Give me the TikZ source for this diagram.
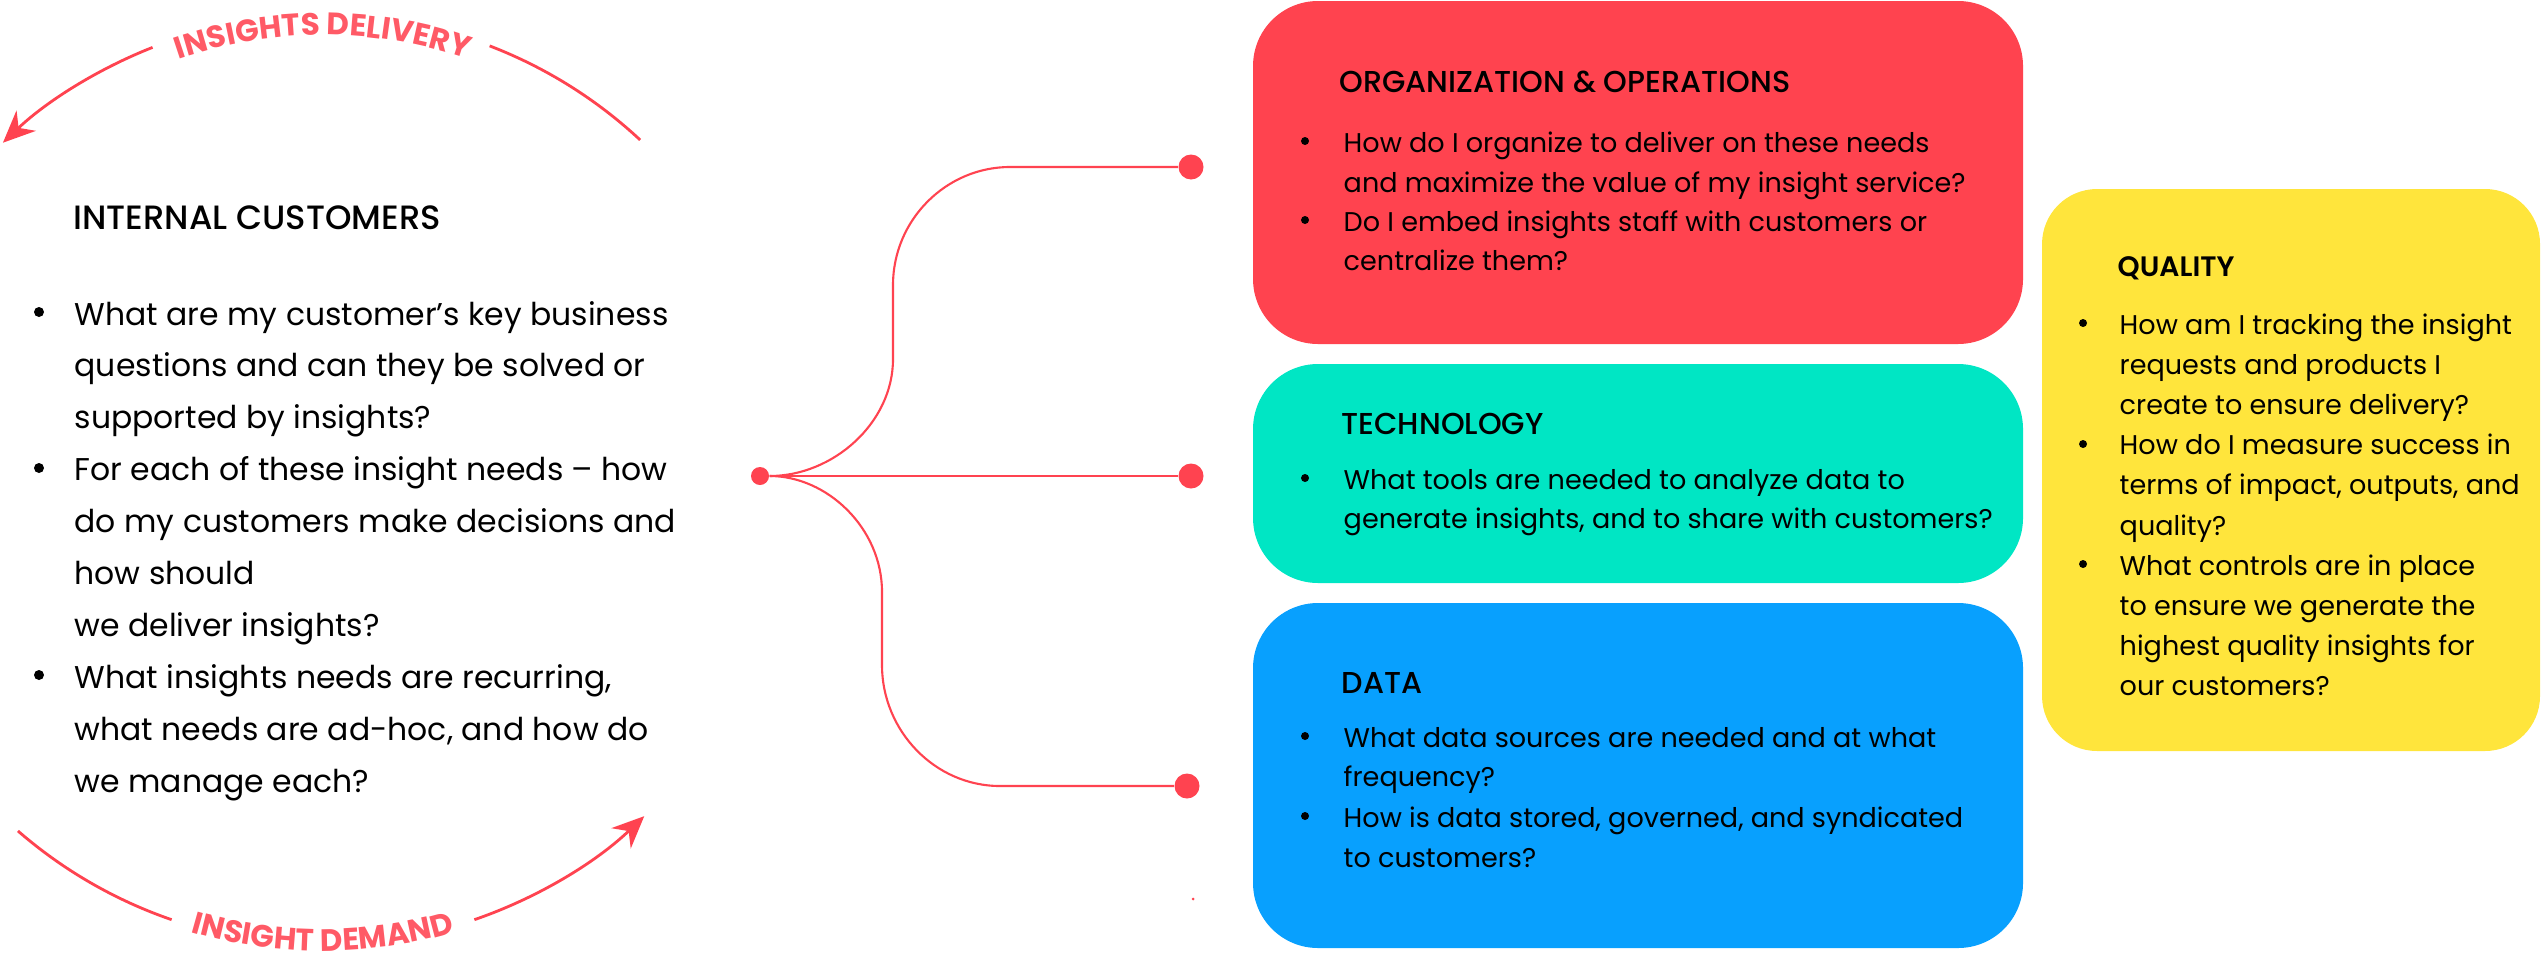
\documentclass[tikz,border=0pt]{standalone}
\usepackage{fontspec}
\setmainfont{Poppins}
\newfontfamily\medfont{Poppins Medium}
\newfontfamily\semifont{Poppins SemiBold}
\newfontfamily\boldfont{Poppins Bold}
\usetikzlibrary{arrows.meta,decorations.text}
\definecolor{redbox}{HTML}{FF434F}
\definecolor{tealbox}{HTML}{00E6C4}
\definecolor{bluebox}{HTML}{08A0FE}
\definecolor{yellowbox}{HTML}{FFE53C}
\definecolor{linered}{HTML}{FF4350}
\definecolor{arctext}{HTML}{FF5A66}
\begin{document}
\begin{tikzpicture}[x=0.1mm,y=0.1mm,
  body/.style={anchor=base west,inner sep=0pt,font=\fontsize{7.7}{8}\selectfont},
  lbody/.style={anchor=base west,inner sep=0pt,font=\fontsize{8.95}{10}\selectfont},
  ttl/.style={anchor=base west,inner sep=0pt,font=\medfont\fontsize{8.6}{9}\selectfont},
  panel/.style={rectangle,rounded corners=6.5mm,draw=none,inner sep=0pt},
  dot/.style={circle,fill=linered,inner sep=0pt,minimum size=2.5mm},
  conn/.style={draw=linered,line width=0.6pt},
  cyc/.style={draw=linered,line width=0.8pt},
  arctxt/.style={decorate,decoration={text along path,text align=center,text color=arctext,text={|\boldfont\fontsize{8.8}{10}\selectfont|#1}}}
]
\useasboundingbox (0,0) rectangle (2542,962);

% panels
\node[panel,fill=redbox,minimum width=77mm,minimum height=34.3mm] (org) at (1638,789.5) {};
\node[panel,fill=tealbox,minimum width=77mm,minimum height=21.9mm] (tech) at (1638,488.5) {};
\node[panel,fill=bluebox,minimum width=77mm,minimum height=34.5mm] (data) at (1638,186.5) {};
\node[panel,rounded corners=5.5mm,fill=yellowbox,minimum width=49.8mm,minimum height=56.2mm] (qual) at (2291,492) {};

% connector dots
\node[dot,minimum size=1.8mm] (L) at (760,486) {};
\node[dot] (T) at (1191,795) {};
\node[dot] (M) at (1191,486) {};
\node[dot] (B) at (1187,176) {};
\node[circle,fill=linered,inner sep=0pt,minimum size=0.3mm] (s) at (1193,63) {};

\draw[conn] (L) .. controls (833,486) and (893,539) .. (893,603) -- (893,677)
   .. controls (893,742) and (946,795) .. (1010,795) -- (T);
\draw[conn] (L) -- (M);
\draw[conn] (L) .. controls (827,486) and (882,434) .. (882,370) -- (882,297)
   .. controls (882,231) and (935,176) .. (1000,176) -- (B);

% cycle arcs
\coordinate (c) at (323,482);
\draw[cyc] ([shift={(47:46.5mm)}]c) arc[start angle=47,end angle=69,radius=46.5mm];
\draw[cyc,-{Stealth[length=3.2mm,width=2.8mm]}] ([shift={(111.5:46.5mm)}]c) arc[start angle=111.5,end angle=133.5,radius=46.5mm];
\draw[cyc] ([shift={(229:46.5mm)}]c) arc[start angle=229,end angle=251,radius=46.5mm];
\draw[cyc,-{Stealth[length=3.2mm,width=2.8mm]}] ([shift={(289:46.5mm)}]c) arc[start angle=289,end angle=313.7,radius=46.5mm];
\path[arctxt={INSIGHTS DELIVERY}] ([shift={(110:44.5mm)}]c) arc[start angle=110,end angle=70,radius=44.5mm];
\path[arctxt={INSIGHT DEMAND}] ([shift={(252:47.1mm)}]c) arc[start angle=252,end angle=288,radius=47.1mm];

% left column
\node[ttl,font=\medfont\fontsize{9.6}{10}\selectfont] (lt) at (73,733) {INTERNAL CUSTOMERS};
\fill (39,650) circle (5);
\fill (39,494) circle (5);
\fill (39,287) circle (5);
\node[lbody] (l1) at (74,637) {What are my customer’s key business};
\node[lbody] (l2) at (74,585.1) {questions and can they be solved or};
\node[lbody] (l3) at (74,533.2) {supported by insights?};
\node[lbody] (l4) at (74,481.3) {For each of these insight needs – how};
\node[lbody] (l5) at (74,429.4) {do my customers make decisions and};
\node[lbody] (l6) at (74,377.5) {how should};
\node[lbody] (l7) at (74,325.6) {we deliver insights?};
\node[lbody] (l8) at (74,273.7) {What insights needs are recurring,};
\node[lbody] (l9) at (74,221.8) {what needs are ad-hoc, and how do};
\node[lbody] (l10) at (74,170) {we manage each?};

% organization
\node[ttl] (ot) at (1339,870) {ORGANIZATION \& OPERATIONS};
\fill (1305,821) circle (4);
\fill (1305,742) circle (4);
\node[body] (o1) at (1343,810) {How do I organize to deliver on these needs};
\node[body] (o2) at (1343,770) {and maximize the value of my insight service?};
\node[body] (o3) at (1343,731) {Do I embed insights staff with customers or};
\node[body] (o4) at (1343,692) {centralize them?};

% technology
\node[ttl] (tt) at (1341,528) {TECHNOLOGY};
\fill (1305,484) circle (4);
\node[body] (t1) at (1343,473) {What tools are needed to analyze data to};
\node[body] (t2) at (1343,434) {generate insights, and to share with customers?};

% data
\node[ttl] (dt) at (1341,269) {DATA};
\fill (1305,226) circle (4);
\fill (1305,146) circle (4);
\node[body] (d1) at (1343,215) {What data sources are needed and at what};
\node[body] (d2) at (1343,176) {frequency?};
\node[body] (d3) at (1343,135) {How is data stored, governed, and syndicated};
\node[body] (d4) at (1343,95) {to customers?};

% quality
\node[ttl,font=\semifont\fontsize{8}{9}\selectfont] (qt) at (2117,686) {QUALITY};
\fill (2083,639) circle (4);
\fill (2083,518) circle (4);
\fill (2083,398) circle (4);
\node[body] (q1) at (2119,628) {How am I tracking the insight};
\node[body] (q2) at (2119,587.8) {requests and products I};
\node[body] (q3) at (2119,547.6) {create to ensure delivery?};
\node[body] (q4) at (2119,507.4) {How do I measure success in};
\node[body] (q5) at (2119,467.2) {terms of impact, outputs, and};
\node[body] (q6) at (2119,427) {quality?};
\node[body] (q7) at (2119,386.8) {What controls are in place};
\node[body] (q8) at (2119,346.6) {to ensure we generate the};
\node[body] (q9) at (2119,306.4) {highest quality insights for};
\node[body] (q10) at (2119,266.2) {our customers?};
\end{tikzpicture}
\end{document}
